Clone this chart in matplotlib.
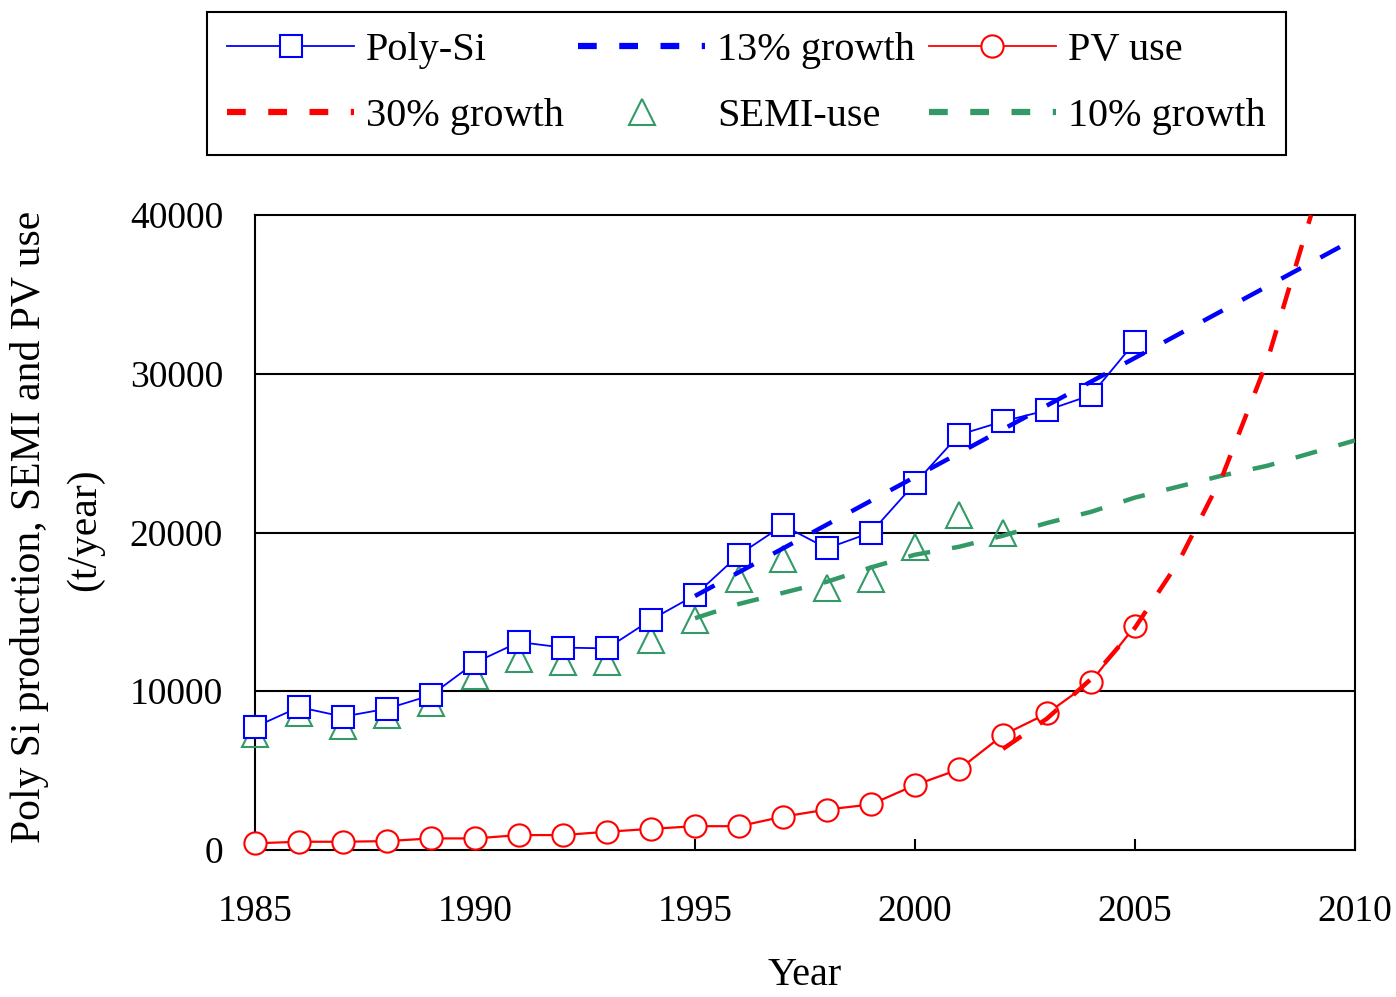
import matplotlib

matplotlib.use("Agg")

import matplotlib.pyplot as plt
from matplotlib.lines import Line2D

plt.rcParams["font.family"] = ["Liberation Serif", "DejaVu Serif"]

BLUE = "#0000ff"
RED = "#ff0000"
GREEN = "#339966"

years = list(range(1985, 2006))
poly_si = [7750, 9000, 8400, 8900, 9750, 11800, 13100, 12750, 12700, 14500, 16050,
           18600, 20450, 19000, 20000, 23100, 26150, 27000, 27700, 28650, 32000]
pv_use = [420, 520, 520, 560, 730, 730, 940, 940, 1150, 1330, 1500,
          1500, 2100, 2550, 2870, 4090, 5080, 7240, 8600, 10600, 14100]

semi_years = list(range(1985, 2003))
semi_use = [7300, 8600, 7800, 8500, 9250, 10950, 12050, 11850, 11850, 13200, 14500,
            17100, 18300, 16500, 17100, 19100, 21100, 19950]

g13_years = list(range(1995, 2011))
growth_13 = [16000, 17500, 19000, 20500, 22000, 23500, 25000, 26500, 28000, 29500,
             31000, 32500, 34000, 35500, 37000, 38500]

g10_years = list(range(1995, 2011))
growth_10 = [14600, 15500, 16200, 16900, 17800, 18600, 19100, 19800, 20600, 21300,
             22200, 22900, 23600, 24200, 25000, 25800]

g30_years = list(range(2002, 2010))
growth_30 = [6370, 8280, 10770, 14000, 18200, 23660, 30760, 39990]

x_ticks = [1985, 1990, 1995, 2000, 2005, 2010]
y_ticks = [0, 10000, 20000, 30000, 40000]

fig = plt.figure(figsize=(13.96, 9.97), dpi=100)
ax = fig.add_axes([255 / 1396, 1 - 850 / 997, 1100 / 1396, 635 / 997])

for y in y_ticks[1:-1]:
    ax.axhline(y, color="black", lw=1.5, zorder=1)

dash_kw = dict(lw=3.2, dashes=(5, 5), zorder=4)
ax.plot(semi_years, semi_use, ls="none", marker="^", ms=19, mfc="none",
        mec=GREEN, mew=1.5, zorder=3, clip_on=False)
ax.plot(years, pv_use, color=RED, lw=1.6, marker="o", ms=16, mfc="white",
        mec=RED, mew=1.5, zorder=3, clip_on=False)
ax.plot(years, poly_si, color=BLUE, lw=1.3, marker="s", ms=15.5, mfc="white",
        mec=BLUE, mew=1.5, zorder=3, clip_on=False)
ax.plot(g13_years, growth_13, color=BLUE, **dash_kw)
ax.plot(g10_years, growth_10, color=GREEN, **dash_kw)
ax.plot(g30_years, growth_30, color=RED, clip_on=False, **dash_kw)

ax.set_xlim(1985, 2010)
ax.set_ylim(0, 40000)
ax.set_xticks(x_ticks)
ax.set_yticks(y_ticks)
ax.tick_params(axis="x", direction="in", length=8, width=1.5, pad=32, labelsize=27)
ax.tick_params(axis="y", length=0, pad=23, labelsize=27)
for side in ax.spines.values():
    side.set_linewidth(1.5)
    side.set_color("black")

ax.set_xlabel("Year", fontsize=29, labelpad=20)
fig.text(30 / 1396, 1 - 527 / 997, "Poly Si production, SEMI and PV use",
         rotation=90, ha="center", va="center", fontsize=30)
fig.text(85 / 1396, 1 - 530 / 997, "(t/year)",
         rotation=90, ha="center", va="center", fontsize=30)

leg_dash = dict(lw=4.5, dashes=(3, 3.6))
handles = [
    Line2D([], [], color=BLUE, lw=1.3, marker="s", ms=15.5, mfc="white", mew=1.5),
    Line2D([], [], color=RED, **leg_dash),
    Line2D([], [], color=BLUE, **leg_dash),
    Line2D([], [], ls="none", marker="^", ms=19, mfc="none", mec=GREEN, mew=1.5),
    Line2D([], [], color=RED, lw=1.3, marker="o", ms=16, mfc="white", mew=1.5),
    Line2D([], [], color=GREEN, **leg_dash),
]
labels = ["Poly-Si", "30% growth", "13% growth", "SEMI-use", "PV use", "10% growth"]
leg = fig.legend(handles, labels, ncol=3, loc="upper left",
                 bbox_to_anchor=(207 / 1396, 1 - 12 / 997), borderaxespad=0,
                 fontsize=29, handlelength=3.15, handletextpad=0.3,
                 columnspacing=0.35, labelspacing=0.7, borderpad=0.5,
                 fancybox=False, framealpha=1, edgecolor="black")
leg.get_frame().set_linewidth(1.5)

fig.savefig("out.png", dpi=100, facecolor="white")
